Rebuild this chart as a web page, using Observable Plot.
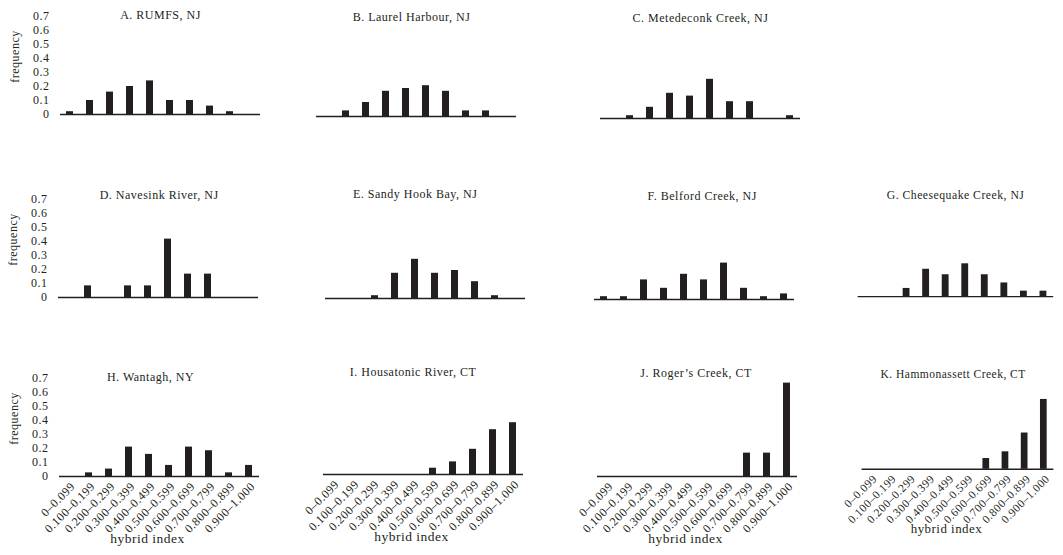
<!DOCTYPE html>
<html><head><meta charset="utf-8">
<script src="https://cdn.jsdelivr.net/npm/d3@7"></script>
<script src="https://cdn.jsdelivr.net/npm/@observablehq/plot@0.6"></script>
<style>
body{margin:0;background:#fff;}
#chart{position:relative;width:1063px;height:555px;overflow:hidden;}
#chart > div{position:absolute;}
</style></head><body><div id="chart"></div>
<script>
// ---- data ----
const bins = ["0–0.099","0.100–0.199","0.200–0.299","0.300–0.399","0.400–0.499","0.500–0.599","0.600–0.699","0.700–0.799","0.800–0.899","0.900–1.000"];
const yTicks = [0, 0.1, 0.2, 0.3, 0.4, 0.5, 0.6, 0.7];
const titles = ["A. RUMFS, NJ","B. Laurel Harbour, NJ","C. Metedeconk Creek, NJ","D. Navesink River, NJ","E. Sandy Hook Bay, NJ","F. Belford Creek, NJ","G. Cheesequake Creek, NJ","H. Wantagh, NY","I. Housatonic River, CT","J. Roger\u2019s Creek, CT","K. Hammonassett Creek, CT"];
const freqA = [0.02, 0.10, 0.16, 0.20, 0.24, 0.10, 0.10, 0.06, 0.02, 0];
const freqB = [0, 0.04, 0.10, 0.18, 0.20, 0.22, 0.18, 0.04, 0.04, 0];
const freqC = [0, 0.02, 0.08, 0.18, 0.16, 0.28, 0.12, 0.12, 0, 0.02];
const freqD = [0, 0.083, 0, 0.083, 0.083, 0.417, 0.167, 0.167, 0, 0];
const freqE = [0, 0, 0.02, 0.18, 0.28, 0.18, 0.20, 0.12, 0.02, 0];
const freqF = [0.02, 0.02, 0.14, 0.08, 0.18, 0.14, 0.26, 0.08, 0.02, 0.04];
const freqG = [0, 0, 0.06, 0.20, 0.16, 0.24, 0.16, 0.10, 0.04, 0.04];
const freqH = [0, 0.026, 0.053, 0.21, 0.158, 0.079, 0.21, 0.184, 0.026, 0.079];
const freqI = [0, 0, 0, 0, 0, 0.045, 0.09, 0.18, 0.32, 0.37];
const freqJ = [0, 0, 0, 0, 0, 0, 0, 0.167, 0.167, 0.667];
const freqK = [0, 0, 0, 0, 0, 0, 0.08, 0.13, 0.27, 0.52];
const series = [freqA, freqB, freqC, freqD, freqE, freqF, freqG, freqH, freqI, freqJ, freqK];

// ---- layout (frame left, baseline y, title centre) ----
const layout = [
  {left: 60,  base: 114.3, tx: 160,   ty: 15,  yAxis: true,  xAxis: false},
  {left: 316, base: 115.7, tx: 411,   ty: 16,  yAxis: false, xAxis: false},
  {left: 600, base: 118.3, tx: 700,   ty: 17.5,yAxis: false, xAxis: false},
  {left: 58,  base: 296.7, tx: 158.7, ty: 194, yAxis: true,  xAxis: false},
  {left: 325, base: 298.3, tx: 414.7, ty: 194, yAxis: false, xAxis: false},
  {left: 594, base: 298.7, tx: 701.7, ty: 195, yAxis: false, xAxis: false},
  {left: 859, base: 298.7, tx: 958.6, ty: 195, yAxis: false, xAxis: false},
  {left: 59,  base: 475.7, tx: 150,   ty: 376, yAxis: true,  xAxis: true},
  {left: 323, base: 474,   tx: 412.6, ty: 372, yAxis: false, xAxis: true},
  {left: 597, base: 475.7, tx: 695.5, ty: 372, yAxis: false, xAxis: true},
  {left: 864, base: 474,   tx: 959,   ty: 375, yAxis: false, xAxis: true}
];

const ink = "#231f20";
const frameW = 200, frameH = 98, mL = 60, mR = 10, mT = 30;
const chart = document.getElementById("chart");

series.forEach((vals, i) => {
  const L = layout[i];
  const mB = L.xAxis ? 80 : 10;
  const data = bins.map((b, j) => ({bin: b, value: vals[j]}));
  const marks = [
    Plot.barY(data, {x: "bin", y: "value", fill: ink}),
    Plot.ruleY([0], {stroke: ink, strokeWidth: 1.5}),
    Plot.text([titles[i]], {text: d => d, frameAnchor: "top", textAnchor: "middle", lineAnchor: "middle", dx: L.tx - (L.left + frameW / 2), dy: L.ty - (L.base - frameH), fontSize: 12, fill: ink})
  ];
  if (L.yAxis) {
    marks.push(Plot.axisY({ticks: yTicks, tickSize: 0, tickPadding: 11, tickFormat: d => d === 0 ? "0" : d.toFixed(1), label: null, fontSize: 12}));
    marks.push(Plot.text(["frequency"], {text: d => d, frameAnchor: "left", textAnchor: "middle", lineAnchor: "middle", rotate: -90, dx: -45, dy: -9, fontSize: 12, fill: ink}));
  }
  if (L.xAxis) {
    marks.push(Plot.axisX({tickRotate: -45, tickSize: 0, tickPadding: 8, dx: 4, label: null, fontSize: 12}));
    marks.push(Plot.text(["hybrid index"], {text: d => d, frameAnchor: "bottom", textAnchor: "middle", lineAnchor: "middle", dx: -12, dy: 62, fontSize: 13.5, fill: ink}));
  }
  const svg = Plot.plot({
    width: mL + frameW + mR,
    height: mT + frameH + mB,
    marginLeft: mL, marginRight: mR, marginTop: mT, marginBottom: mB,
    style: {fontFamily: "'Liberation Serif', 'Times New Roman', serif", fontSize: "12px", letterSpacing: "0.5px", color: ink, background: "transparent", overflow: "visible"},
    x: {type: "band", domain: bins, paddingInner: 0.64, paddingOuter: 0.32, axis: null},
    y: {domain: [0, 0.7], axis: null},
    marks
  });
  const wrap = document.createElement("div");
  wrap.style.left = (L.left - mL) + "px";
  wrap.style.top = (L.base - frameH - mT) + "px";
  wrap.appendChild(svg);
  chart.appendChild(wrap);
});
</script>
</body></html>
